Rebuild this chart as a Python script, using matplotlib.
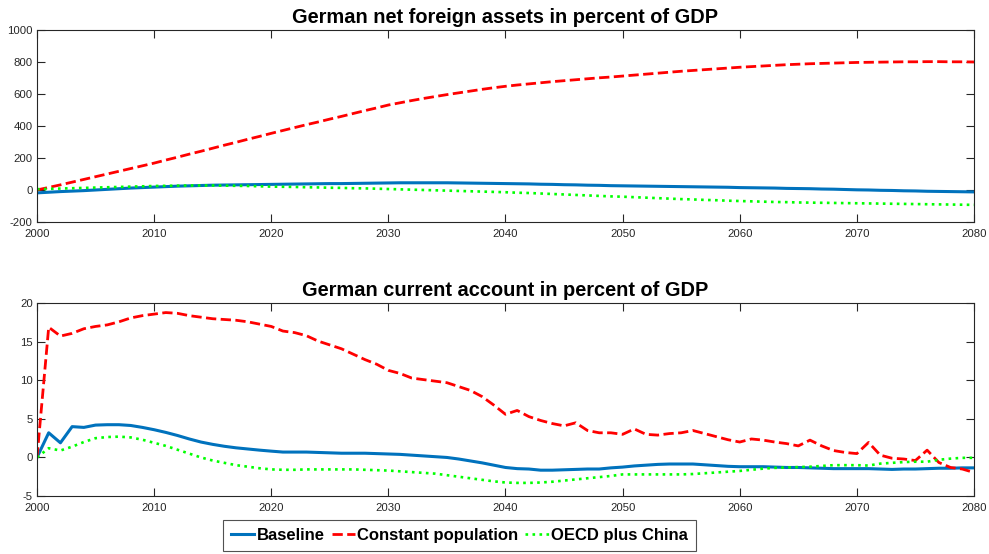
import numpy as np
import matplotlib
matplotlib.use("Agg")
import matplotlib.pyplot as plt
from matplotlib.lines import Line2D

plt.rcParams['font.family'] = ['Liberation Sans', 'DejaVu Sans']
plt.rcParams['axes.unicode_minus'] = False

years = np.arange(2000, 2081)

# Net foreign assets, percent of GDP
nfa_base = [-18, -14, -10, -7, -4, 0, 4, 8, 12, 15,
            18, 21, 24, 26, 28, 30, 31, 32, 33, 34,
            35, 36, 37, 38, 39, 40, 40, 41, 42, 43,
            44, 45, 45, 45, 45, 45, 44, 43, 42, 41,
            40, 39, 38, 36, 35, 33, 32, 30, 29, 27,
            26, 25, 24, 23, 22, 21, 20, 19, 18, 17,
            15, 14, 13, 12, 10, 9, 8, 6, 5, 3,
            1, 0, -2, -3, -5, -6, -8, -9, -10, -11,
            -12]
nfa_constpop = [0, 16, 32, 49, 66, 83, 100, 117, 134, 151,
                168, 187, 205, 224, 242, 261, 280, 298, 317, 335,
                354, 372, 390, 408, 425, 443, 460, 478, 496, 513,
                531, 545, 559, 572, 584, 596, 607, 618, 629, 639,
                648, 656, 663, 670, 677, 683, 689, 695, 701, 706,
                712, 718, 724, 730, 736, 742, 747, 752, 757, 762,
                767, 771, 775, 779, 783, 786, 789, 791, 793, 795,
                797, 798, 799, 800, 801, 801, 802, 802, 801, 801,
                800]
nfa_oecd = [5, 7, 9, 11, 13, 15, 17, 19, 21, 23,
            25, 26, 27, 28, 28, 28, 27, 26, 25, 23,
            21, 20, 19, 17, 16, 14, 13, 11, 10, 8,
            6, 4, 2, 0, -2, -4, -6, -8, -10, -12,
            -14, -17, -19, -22, -25, -28, -31, -34, -37, -40,
            -42, -45, -48, -51, -54, -57, -59, -62, -64, -67,
            -69, -71, -73, -75, -76, -78, -79, -80, -81, -82,
            -83, -84, -85, -86, -87, -88, -89, -90, -91, -92,
            -93]

# Current account, percent of GDP
ca_base = [0, 3.2, 1.9, 4.0, 3.9, 4.2, 4.25, 4.25, 4.15, 3.9,
           3.6, 3.25, 2.85, 2.4, 2.0, 1.7, 1.45, 1.25, 1.1, 0.95,
           0.82, 0.7, 0.7, 0.7, 0.65, 0.6, 0.55, 0.55, 0.55, 0.5,
           0.45, 0.4, 0.3, 0.2, 0.1, 0.0, -0.2, -0.45, -0.7, -1.0,
           -1.3, -1.45, -1.5, -1.65, -1.65, -1.6, -1.55, -1.5, -1.5, -1.35,
           -1.25, -1.1, -1.0, -0.9, -0.85, -0.85, -0.85, -0.95, -1.05, -1.15,
           -1.2, -1.2, -1.2, -1.25, -1.3, -1.3, -1.35, -1.4, -1.45, -1.45,
           -1.45, -1.45, -1.5, -1.55, -1.5, -1.5, -1.45, -1.4, -1.4, -1.35,
           -1.35]
ca_constpop = [0, 16.9, 15.75, 16.1, 16.7, 17.0, 17.2, 17.6, 18.1, 18.4,
               18.6, 18.8, 18.7, 18.4, 18.2, 18.0, 17.9, 17.8, 17.6, 17.3,
               17.0, 16.4, 16.2, 15.8, 15.1, 14.6, 14.1, 13.4, 12.7, 12.1,
               11.3, 10.9, 10.3, 10.1, 9.9, 9.7, 9.2, 8.7, 7.9, 6.8,
               5.6, 6.1, 5.3, 4.8, 4.4, 4.1, 4.5, 3.5, 3.2, 3.2,
               3.0, 3.7, 3.0, 2.9, 3.1, 3.2, 3.5, 3.1, 2.7, 2.3,
               2.0, 2.4, 2.25, 2.0, 1.8, 1.5, 2.25, 1.5, 0.9, 0.65,
               0.5, 1.95, 0.3, -0.1, -0.2, -0.4, 0.95, -0.65, -1.3, -1.5,
               -1.95]
ca_oecd = [0, 1.2, 0.9, 1.4, 2.0, 2.5, 2.65, 2.7, 2.6, 2.3,
           1.9, 1.5, 1.0, 0.5, 0.0, -0.4, -0.7, -1.0, -1.2, -1.4,
           -1.55, -1.6, -1.6, -1.55, -1.55, -1.55, -1.55, -1.55, -1.6, -1.65,
           -1.7, -1.8, -1.9, -2.0, -2.1, -2.3, -2.5, -2.7, -2.9, -3.1,
           -3.25, -3.3, -3.3, -3.25, -3.15, -3.0, -2.85, -2.7, -2.55, -2.4,
           -2.2, -2.2, -2.2, -2.2, -2.2, -2.2, -2.15, -2.05, -1.95, -1.85,
           -1.75, -1.6, -1.45, -1.35, -1.3, -1.25, -1.2, -1.1, -1.0, -1.0,
           -1.0, -1.05, -0.8, -0.7, -0.6, -0.55, -0.55, -0.3, -0.15, -0.05,
           -0.05]

labels = ['Baseline', 'Constant population', 'OECD plus China']
styles = [dict(color='#0072BD', linestyle='-', linewidth=2.2),
          dict(color='#FF0000', linestyle='--', linewidth=2),
          dict(color='#00FF00', linestyle=':', linewidth=1.9)]

fig = plt.figure(figsize=(9.89, 5.54), dpi=100)
ax1 = fig.add_axes([0.0374, 0.5993, 0.9474, 0.3466])
ax2 = fig.add_axes([0.0374, 0.1047, 0.9474, 0.3478])


def draw(ax, series, title, ylim, yticks):
    for s, st in zip(series, styles):
        ax.plot(years, s, **st)
    ax.set_xlim(2000, 2080)
    ax.set_ylim(*ylim)
    ax.set_xticks(range(2000, 2081, 10))
    ax.set_yticks(yticks)
    ax.set_title(title, fontsize=14.4, fontweight='bold', pad=5)
    ax.tick_params(direction='in', top=True, right=True, length=6,
                   labelsize=8.2, colors='#262626', pad=3)
    ax.tick_params(axis='x', pad=5)
    for sp in ax.spines.values():
        sp.set_color('#262626')
        sp.set_linewidth(0.8)


draw(ax1, [nfa_base, nfa_constpop, nfa_oecd],
     'German net foreign assets in percent of GDP',
     (-200, 1000), range(-200, 1001, 200))
draw(ax2, [ca_base, ca_constpop, ca_oecd],
     'German current account in percent of GDP',
     (-5, 20), range(-5, 21, 5))

handles = [Line2D([], [], **st) for st in styles]
leg = fig.legend(handles, labels, loc='lower center', ncol=3,
                 bbox_to_anchor=(0.4646, 0.005), frameon=True, fancybox=False,
                 prop={'weight': 'bold', 'size': 12.0}, handlelength=1.4,
                 handletextpad=0.15, columnspacing=0.4, borderpad=0.5,
                 borderaxespad=0.0)
leg.get_frame().set_edgecolor('#262626')
leg.get_frame().set_linewidth(0.8)

fig.savefig('out.png', dpi=100)
